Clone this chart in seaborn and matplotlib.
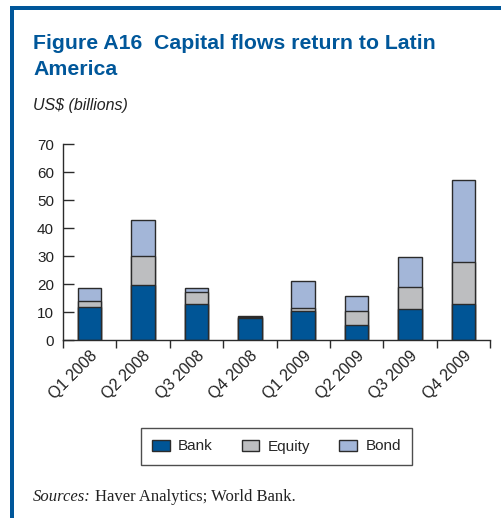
import pandas as pd
import seaborn as sns
import matplotlib.pyplot as plt
from matplotlib.patches import Patch, Rectangle

quarters = ["Q1 2008", "Q2 2008", "Q3 2008", "Q4 2008",
            "Q1 2009", "Q2 2009", "Q3 2009", "Q4 2009"]
bank = [11.8, 19.8, 12.8, 8.0, 10.2, 5.5, 11.1, 13.0]
equity = [2.0, 10.2, 4.4, 0.3, 1.2, 5.0, 7.8, 15.0]
bond = [4.7, 12.9, 1.2, 0.3, 9.6, 5.3, 10.9, 29.3]

blue = "#00579a"
c_bank = "#005596"
c_equity = "#bdbec0"
c_bond = "#a3b6d8"
edge = "#2b2b2b"

df = pd.DataFrame({"quarter": quarters, "bank": bank, "equity": equity, "bond": bond})
df["bank_equity"] = df["bank"] + df["equity"]
df["total"] = df["bank_equity"] + df["bond"]

sns.set_style("ticks")
plt.rcParams["font.family"] = ["Liberation Sans", "DejaVu Sans"]

fig = plt.figure(figsize=(5.01, 5.18), dpi=100)
ax = fig.add_axes([63 / 501, 1 - 340 / 518, (490 - 63) / 501, (340 - 144) / 518])

# stacked bars drawn as overlapping cumulative totals
for col, color in [("total", c_bond), ("bank_equity", c_equity), ("bank", c_bank)]:
    sns.barplot(data=df, x="quarter", y=col, color=color, width=0.44,
                edgecolor=edge, linewidth=1.0, ax=ax, saturation=1)

ax.set_xlim(-0.5, 7.5)
ax.set_ylim(0, 70)
ax.set_yticks(range(0, 71, 10))
ax.set_xlabel("")
ax.set_ylabel("")
ax.set_xticks([i - 0.5 for i in range(9)], minor=False)
ax.set_xticklabels([])
ax.set_xticks(range(8), minor=True)
ax.set_xticklabels(quarters, minor=True, rotation=45, ha="right",
                   rotation_mode="anchor", fontsize=11.5, color="#222222")
ax.tick_params(axis="x", which="minor", length=0, pad=6)
ax.tick_params(axis="x", which="major", direction="out", length=6, width=1, color=edge)
ax.tick_params(axis="y", direction="in", length=8, width=1, color=edge, labelsize=11,
               labelcolor="#222222", pad=6.5)
for s in ["top", "right"]:
    ax.spines[s].set_visible(False)
for s in ["left", "bottom"]:
    ax.spines[s].set_color(edge)
    ax.spines[s].set_linewidth(1)

handles = [Patch(facecolor=c_bank, edgecolor=edge, label="Bank"),
           Patch(facecolor=c_equity, edgecolor=edge, label="Equity"),
           Patch(facecolor=c_bond, edgecolor=edge, label="Bond")]
leg = fig.legend(handles=handles, loc="center", bbox_to_anchor=(276.5 / 501, 1 - 446.5 / 518),
                 ncol=3, frameon=True, fancybox=False, fontsize=11, handlelength=1.15,
                 handleheight=0.7, columnspacing=1.9, handletextpad=0.55, borderpad=0.75)
leg.get_frame().set_edgecolor("#222222")
leg.get_frame().set_linewidth(1)

# figure frame
fig.add_artist(Rectangle((10 / 501, 0), 4 / 501, 1 - 6 / 518, transform=fig.transFigure,
                         color=blue, lw=0))
fig.add_artist(Rectangle((10 / 501, 1 - 10 / 518), 1, 4 / 518, transform=fig.transFigure,
                         color=blue, lw=0))

fig.text(33 / 501, 1 - 49 / 518, "Figure A16  Capital flows return to Latin",
         fontsize=15.3, fontweight="bold", color=blue, va="baseline")
fig.text(33 / 501, 1 - 75 / 518, "America",
         fontsize=15.3, fontweight="bold", color=blue, va="baseline")
fig.text(33 / 501, 1 - 110 / 518, "US$ (billions)", fontsize=11.5, style="italic",
         color="#222222", va="baseline")
src = fig.text(33 / 501, 1 - 501 / 518, "Sources:", fontsize=12, style="italic",
               family="Liberation Serif", color="#222222", va="baseline")
fig.canvas.draw()
bb = src.get_window_extent()
fig.text((bb.x1 + 4) / 501, 1 - 501 / 518, "Haver Analytics; World Bank.", fontsize=12,
         family="Liberation Serif", color="#222222", va="baseline")

fig.savefig("out.png", dpi=100)
